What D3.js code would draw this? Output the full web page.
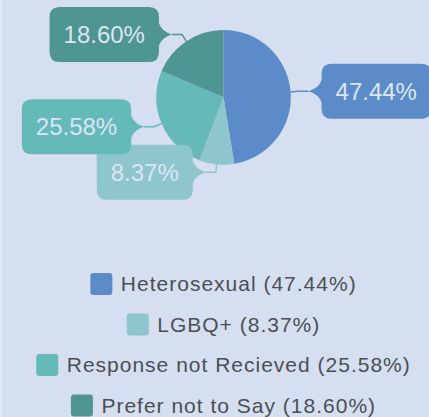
<!DOCTYPE html>
<html>
<head>
<meta charset="utf-8">
<script src="https://cdn.jsdelivr.net/npm/d3@7"></script>
<style>
    html, body { margin: 0; padding: 0; background: #d6dff0; }
    svg { display: block; }
    text { font-family: "Liberation Sans", Arial, sans-serif; }
</style>
</head>
<body>
<script>
const categories = ["Heterosexual", "LGBQ+", "Response not Recieved", "Prefer not to Say"];
const values = [47.44, 8.37, 25.58, 18.60];
const colors = ["#5b8bc9", "#8fc5cc", "#65b9b9", "#4f9592"];

const width = 429, height = 417;
const cx = 223.5, cy = 97.3, radius = 67.3;

const svg = d3.select("body").append("svg")
    .attr("width", width)
    .attr("height", height);

svg.append("rect")
    .attr("width", width)
    .attr("height", height)
    .attr("fill", "#d6dff0");

// faint light strip along the left edge
svg.append("rect")
    .attr("width", 2)
    .attr("height", height)
    .attr("fill", "#e0e6f2");

const pie = d3.pie()
    .sort(null)
    .value(d => d);

const arcs = pie(values);

const arc = d3.arc()
    .innerRadius(0)
    .outerRadius(radius);

const chart = svg.append("g")
    .attr("transform", "translate(" + cx + "," + cy + ")");

chart.selectAll(".slice")
    .data(arcs)
    .enter()
    .append("path")
    .attr("class", "slice")
    .attr("fill", (d, i) => colors[i])
    .attr("d", arc);

// callouts: short radial stub, then horizontal to the pointer tip
const stub = 8, run = 10, pointer = 13, boxH = 55, pad = 14, rr = 10, half = 11;

function calloutPath(tx, ty, w, side) {
    // side = 1: box on right of tip, -1: box on left
    const y0 = ty - boxH / 2, y1 = ty + boxH / 2;
    if (side > 0) {
        const x0 = tx + pointer, x1 = x0 + w;
        return "M" + (x0 + rr) + "," + y0 +
            "H" + (x1 - rr) + "Q" + x1 + "," + y0 + " " + x1 + "," + (y0 + rr) +
            "V" + (y1 - rr) + "Q" + x1 + "," + y1 + " " + (x1 - rr) + "," + y1 +
            "H" + (x0 + rr) + "Q" + x0 + "," + y1 + " " + x0 + "," + (y1 - rr) +
            "V" + (ty + half) + "Q" + (x0 - 3) + "," + (ty + 3) + " " + tx + "," + ty +
            "Q" + (x0 - 3) + "," + (ty - 3) + " " + x0 + "," + (ty - half) +
            "V" + (y0 + rr) + "Q" + x0 + "," + y0 + " " + (x0 + rr) + "," + y0 + "Z";
    } else {
        const x1 = tx - pointer, x0 = x1 - w;
        return "M" + (x0 + rr) + "," + y0 +
            "H" + (x1 - rr) + "Q" + x1 + "," + y0 + " " + x1 + "," + (y0 + rr) +
            "V" + (ty - half) + "Q" + (x1 + 3) + "," + (ty - 3) + " " + tx + "," + ty +
            "Q" + (x1 + 3) + "," + (ty + 3) + " " + x1 + "," + (ty + half) +
            "V" + (y1 - rr) + "Q" + x1 + "," + y1 + " " + (x1 - rr) + "," + y1 +
            "H" + (x0 + rr) + "Q" + x0 + "," + y1 + " " + x0 + "," + (y1 - rr) +
            "V" + (y0 + rr) + "Q" + x0 + "," + y0 + " " + (x0 + rr) + "," + y0 + "Z";
    }
}

const labels = chart.selectAll(".callout")
    .data(arcs)
    .enter()
    .append("g")
    .attr("class", "callout");

labels.each(function(d, i) {
    const g = d3.select(this);
    const a = (d.startAngle + d.endAngle) / 2;
    const sx = Math.sin(a) * radius, sy = -Math.cos(a) * radius;
    const ex = Math.sin(a) * (radius + stub), ey = -Math.cos(a) * (radius + stub);
    const side = Math.sin(a) >= 0 ? 1 : -1;
    const tx = ex + side * run, ty = ey;

    g.append("polyline")
        .attr("points", [[sx, sy], [ex, ey], [tx, ty]].map(p => p.join(",")).join(" "))
        .attr("fill", "none")
        .attr("stroke", colors[i])
        .attr("stroke-width", 1.5);

    const box = g.append("path").attr("fill", colors[i]);
    const t = g.append("text")
        .attr("font-size", "24px")
        .attr("fill", "#dde5f2")
        .attr("text-anchor", "middle")
        .attr("dy", "0.35em")
        .text(d3.format(".2f")(values[i]) + "%");
    const w = t.node().getComputedTextLength() + pad * 2;
    box.attr("d", calloutPath(tx, ty, w, side));
    t.attr("x", side > 0 ? tx + pointer + w / 2 : tx - pointer - w / 2)
        .attr("y", ty);
});

// legend
const legendTop = 284, legendStep = 40.5, sw = 22, gap = 8.5;

const legend = svg.selectAll(".legend")
    .data(categories)
    .enter()
    .append("g")
    .attr("class", "legend")
    .attr("transform", (d, i) => "translate(0," + (legendTop + i * legendStep) + ")");

legend.each(function(d, i) {
    const g = d3.select(this);
    const rect = g.append("rect")
        .attr("y", -sw / 2)
        .attr("width", sw)
        .attr("height", sw)
        .attr("rx", 3)
        .attr("fill", colors[i]);
    const t = g.append("text")
        .attr("font-size", "21px")
        .attr("letter-spacing", "1px")
        .attr("fill", "#4a4f56")
        .attr("dy", "0.35em")
        .text(d + " (" + d3.format(".2f")(values[i]) + "%)");
    const tw = t.node().getComputedTextLength();
    const x0 = cx - (sw + gap + tw) / 2;
    rect.attr("x", x0);
    t.attr("x", x0 + sw + gap);
});
</script>
</body>
</html>
